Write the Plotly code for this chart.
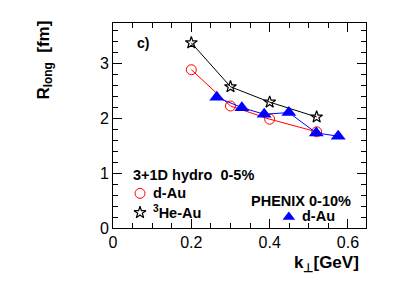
import plotly.graph_objects as go

# Data
he_x = [0.2, 0.3, 0.4, 0.52]
he_y = [3.37, 2.57, 2.29, 2.02]
dau_hydro_x = [0.2, 0.3, 0.4, 0.52]
dau_hydro_y = [2.88, 2.22, 1.98, 1.75]
phenix_x = [0.265, 0.329, 0.386, 0.449, 0.519, 0.575]
phenix_y = [2.38, 2.19, 2.07, 2.10, 1.73, 1.67]

FONT = "Liberation Sans, Arial, Helvetica, sans-serif"

fig = go.Figure()
fig.add_trace(go.Scatter(x=he_x, y=he_y, mode="lines+markers",
                         line=dict(color="black", width=1),
                         marker=dict(symbol="star-open", size=9, color="black", line=dict(width=1.2)),
                         showlegend=False))
fig.add_trace(go.Scatter(x=dau_hydro_x, y=dau_hydro_y, mode="lines+markers",
                         line=dict(color="red", width=1),
                         marker=dict(symbol="circle-open", size=10, color="red", line=dict(width=1)),
                         showlegend=False))
fig.add_trace(go.Scatter(x=phenix_x, y=phenix_y, mode="lines+markers",
                         line=dict(color="blue", width=1),
                         marker=dict(symbol="triangle-up", size=13, color="blue"),
                         showlegend=False))
# legend markers
fig.add_trace(go.Scatter(x=[0.069], y=[0.63], mode="markers",
                         marker=dict(symbol="circle-open", size=10, color="red", line=dict(width=1)),
                         showlegend=False, cliponaxis=False))
fig.add_trace(go.Scatter(x=[0.069], y=[0.28], mode="markers",
                         marker=dict(symbol="star-open", size=9, color="black", line=dict(width=1.2)),
                         showlegend=False, cliponaxis=False))
fig.add_trace(go.Scatter(x=[0.449], y=[0.2], mode="markers",
                         marker=dict(symbol="triangle-up", size=11, color="blue"),
                         showlegend=False, cliponaxis=False))

ann = [
    dict(x=0.057, y=3.36, text="<b>c)</b>", xanchor="left", font=dict(size=14)),
    dict(x=0.045, y=0.96, text="<b>3+1D hydro  0-5%</b>", xanchor="left", font=dict(size=14.5)),
    dict(x=0.098, y=0.63, text="<b>d-Au</b>", xanchor="left", font=dict(size=14.5)),
    dict(x=0.098, y=0.29, text="<b><sup>3</sup>He-Au</b>", xanchor="left", font=dict(size=14.5)),
    dict(x=0.348, y=0.50, text="<b>PHENIX 0-10%</b>", xanchor="left", font=dict(size=14.5)),
    dict(x=0.477, y=0.22, text="<b>d-Au</b>", xanchor="left", font=dict(size=14.5)),
]
for a in ann:
    a.update(xref="x", yref="y", showarrow=False, yanchor="middle")
ann += [
    dict(x=-0.27, y=0.82, xref="paper", yref="paper", text="<b>R<sub>long</sub>  [fm]</b>", showarrow=False,
         textangle=-90, xanchor="center", yanchor="middle", font=dict(size=17)),
    dict(x=0.98, y=-0.175, xref="paper", yref="paper", text="<b>k<sub>⊥</sub>[GeV]</b>", showarrow=False,
         xanchor="right", yanchor="middle", font=dict(size=17)),
]
fig.update_layout(annotations=ann)

axis_common = dict(ticks="inside", mirror="ticks", showline=True, linecolor="black", linewidth=1,
                   showgrid=False, zeroline=False, tickcolor="black",
                   tickfont=dict(size=16, color="black"))
fig.update_xaxes(range=[0, 0.646], tickvals=[0, 0.2, 0.4, 0.6], ticktext=["0", "0.2", "0.4", "0.6"],
                 ticklen=9, minor=dict(dtick=0.05, ticks="inside", ticklen=5, tickcolor="black"),
                 **axis_common)
fig.update_yaxes(range=[0, 3.73], tickvals=[0, 1, 2, 3], ticklen=9,
                 minor=dict(dtick=0.2, ticks="inside", ticklen=5, tickcolor="black"),
                 **axis_common)
fig.update_layout(width=407, height=307, margin=dict(l=105, r=49, t=15, b=87),
                  plot_bgcolor="white", paper_bgcolor="white",
                  font=dict(family=FONT, color="black"))
fig.write_html("out.html")
